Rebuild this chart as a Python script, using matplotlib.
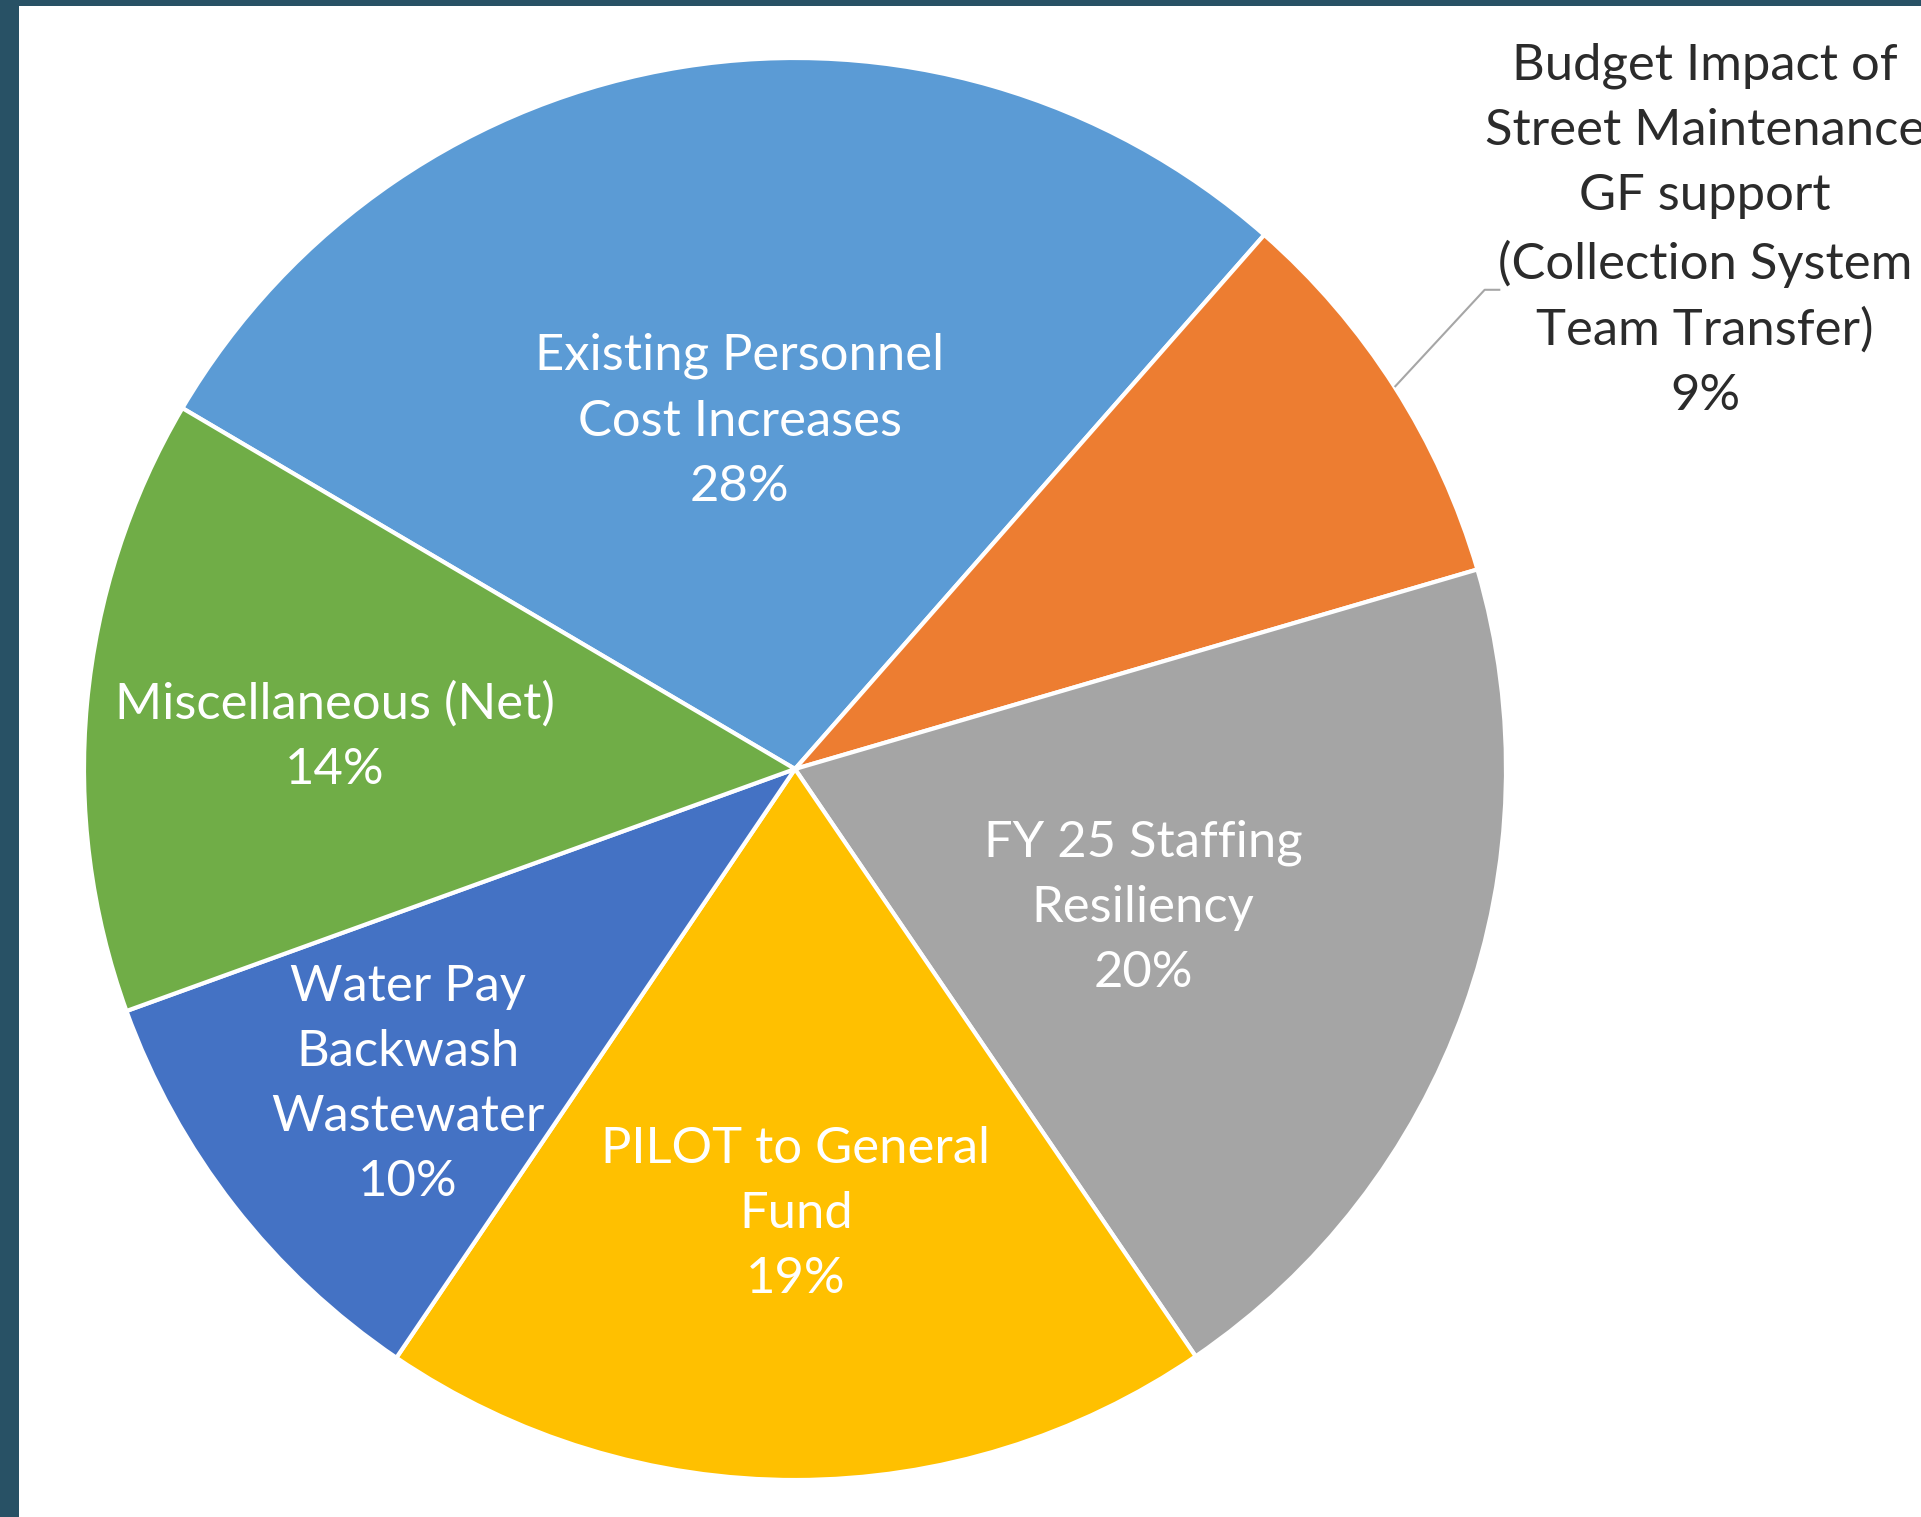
import numpy as np
import matplotlib
matplotlib.use("Agg")
import matplotlib.pyplot as plt
from matplotlib.patches import Rectangle

# Budget drivers and their share of the increase (%)
categories = [
    "Existing Personnel\nCost Increases",
    "Budget Impact of\nStreet Maintenance\nGF support\n(Collection System\nTeam Transfer)",
    "FY 25 Staffing\nResiliency",
    "PILOT to General\nFund",
    "Water Pay\nBackwash\nWastewater",
    "Miscellaneous (Net)",
]
values = [28, 9, 20, 19, 10, 14]
colors = ["#5B9BD5", "#ED7D31", "#A5A5A5", "#FFC000", "#4472C4", "#70AD47"]

# inside label placement: radial fraction along the wedge's mid-angle and a
# small vertical nudge (radius units); None = outside label with leader line
label_radius = [0.49, None, 0.52, 0.62, 0.69, 0.65]
label_nudge = [0.005, 0.0, -0.02, -0.006, -0.02, -0.015]

plt.rcParams["font.family"] = ["Lato", "DejaVu Sans"]

W, H, DPI = 1921, 1517, 100
fig = plt.figure(figsize=(W / DPI, H / DPI), dpi=DPI)
fig.patch.set_facecolor("#285165")

# white chart area
fig.add_artist(Rectangle((19 / W, 0), 1 - 19 / W, 1 - 6 / H,
                         transform=fig.transFigure, facecolor="white",
                         edgecolor="none", zorder=0))

ax = fig.add_axes([0, 0, 1, 1])
ax.set_facecolor("none")

cx, cy, R = 795, 769, 711   # pie centre and radius in pixels
wedges, _ = ax.pie(values, colors=colors, startangle=149.5, counterclock=False,
                   radius=1.0,
                   wedgeprops=dict(edgecolor="white", linewidth=3))
ax.set_xlim(-cx / R, (W - cx) / R)
ax.set_ylim(-(H - cy) / R, cy / R)
ax.set_aspect("equal")
ax.axis("off")

FS = 36.5
LS = 1.52
for w, lab, v, r, dy in zip(wedges, categories, values, label_radius, label_nudge):
    mid = np.deg2rad((w.theta1 + w.theta2) / 2)
    text = f"{lab}\n{v}%"
    if r is not None:
        ax.text(r * np.cos(mid), r * np.sin(mid) + dy, text, ha="center",
                va="center", multialignment="center", color="white",
                fontsize=FS, linespacing=LS)
    else:
        # outside label with leader line
        x0, y0 = np.cos(mid), np.sin(mid)
        ex, ey = 0.970, 0.674
        tx, ty = 1.280, 0.757
        ax.plot([x0, ex, 0.992], [y0, ey, ey], color="#A6A6A6", lw=1.5,
                solid_capstyle="butt")
        ax.text(tx, ty, text, ha="center", va="center", multialignment="center",
                color="#2B2B2B", fontsize=FS, linespacing=LS)

fig.savefig("out.png", dpi=DPI, facecolor=fig.get_facecolor())
